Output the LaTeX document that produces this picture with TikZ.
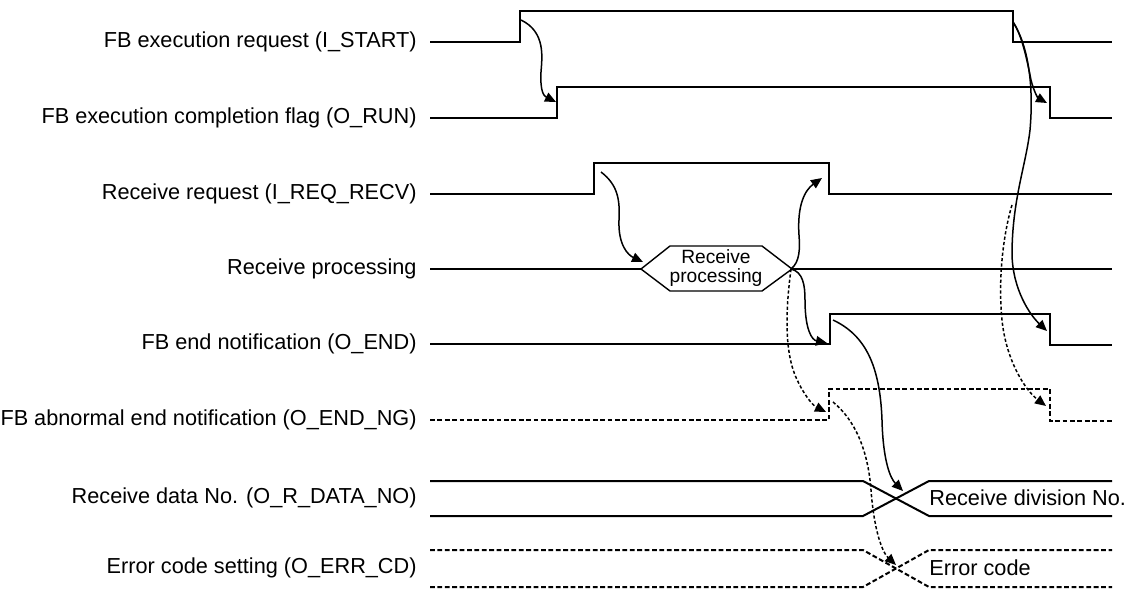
\documentclass[tikz,border=0pt]{standalone}
\usepackage{fontspec}
\setmainfont{Liberation Sans}
\usetikzlibrary{arrows.meta}

\begin{document}
\begin{tikzpicture}[x=0.5pt, y=-0.5pt,
  font=\fontsize{10.85}{13}\selectfont, >={Triangle[length=5.5pt,width=4.8pt]},
  lbl/.style={anchor=east, inner sep=0pt},
  val/.style={anchor=west, inner sep=0pt},
  sig/.style={line width=1pt, line join=miter},
  signg/.style={sig, dash pattern=on 2.4pt off 1.3pt},
  cause/.style={->, line width=0.75pt},
  causeng/.style={cause, dash pattern=on 1.6pt off 1.1pt},
]
\useasboundingbox (0,0) rectangle (1126,589);
% -- signal names
\node[lbl] (start) at (417,42) {FB execution request (I\_START)};
\node[lbl] (run) at (417,118) {FB execution completion flag (O\_RUN)};
\node[lbl] (reqrecv) at (417,194) {Receive request (I\_REQ\_RECV)};
\node[lbl] (recvproc) at (417,269) {Receive processing};
\node[lbl] (oend) at (417,344) {FB end notification (O\_END)};
\node[lbl] (oendng) at (417,420) {FB abnormal end notification (O\_END\_NG)};
\node[lbl] (rdata) at (417,498) {Receive data No. (O\_R\_DATA\_NO)};
\node[lbl] (errcd) at (417,568) {Error code setting (O\_ERR\_CD)};
% -- waveforms
\draw[sig] (430,42) -- (520,42) -- (520,11) -- (1013,11) -- (1013,42) -- (1112,42);
\draw[sig] (430,118) -- (557,118) -- (557,87) -- (1050,87) -- (1050,118) -- (1112,118);
\draw[sig] (430,194) -- (594,194) -- (594,163) -- (829,163) -- (829,194) -- (1112,194);
\draw[sig, line width=1.3pt] (430,269) -- (641,269) (792,269) -- (1112,269);
\draw[line width=0.7pt] (641,269) -- (670,246) -- (762,246) -- (792,269) -- (762,291) -- (670,291) -- cycle;
\node[align=center, inner sep=0pt, font=\fontsize{9.6}{9.5}\selectfont] (proc) at (716,268) {Receive\\processing};
\draw[sig] (430,344) -- (830,344) -- (830,314) -- (1050,314) -- (1050,345) -- (1112,345);
\draw[signg] (430,420) -- (829,420) -- (829,389) -- (1050,389) -- (1050,421) -- (1112,421);
\draw[sig] (430,481) -- (863,481) -- (929,516) -- (1112,516);
\draw[sig] (430,516) -- (863,516) -- (929,481) -- (1112,481);
\draw[signg] (430,550) -- (863,550) -- (929,587) -- (1112,587);
\draw[signg] (430,587) -- (863,587) -- (929,550) -- (1112,550);
\node[val] (divno) at (929,498) {Receive division No.};
\node[val] (errcode) at (929,568) {Error code};
% -- edge points
\coordinate (startup) at (521,20);
\coordinate (runup) at (556,102);
\coordinate (startdn) at (1013,22);
\coordinate (rundn) at (1047,103);
\coordinate (recvup) at (601,172);
\coordinate (procl) at (643,262);
\coordinate (procr) at (791,269);
\coordinate (recvdn) at (822,178);
\coordinate (endup) at (827,343);
\coordinate (ngup) at (826,412);
\coordinate (endtop) at (833,320);
\coordinate (ngtop) at (833,402);
\coordinate (datax) at (903,491);
\coordinate (errx) at (896,565);
\coordinate (branch) at (1012,205);
\coordinate (enddn) at (1047,331);
\coordinate (ngdn) at (1046,406);
% -- cause and effect
\draw[cause] (startup) .. controls (546,32) and (542,58) .. (541,72) .. controls (540,92) and (544,96) .. (runup);
\draw[cause] (recvup) .. controls (618,185) and (620,200) .. (619,220) .. controls (618,245) and (628,255) .. (procl);
\draw[cause] (procr) .. controls (800,262) and (800,248) .. (799,235) .. controls (797,205) and (805,190) .. (recvdn);
\draw[cause] (procr) .. controls (803,272) and (805,285) .. (805,300) .. controls (805,330) and (812,340) .. (endup);
\draw[causeng] (procr) .. controls (787,300) and (783,345) .. (795,375) .. controls (802,392) and (812,405) .. (ngup);
\draw[cause] (endtop) .. controls (865,335) and (880,365) .. (882,420) .. controls (883,460) and (890,478) .. (datax);
\draw[causeng] (ngtop) .. controls (855,420) and (868,450) .. (871,490) .. controls (874,530) and (882,552) .. (errx);
\draw[cause] (startdn) .. controls (1022,35) and (1027,60) .. (1031,80) .. controls (1034,92) and (1038,98) .. (rundn);
\draw[cause] (startdn) .. controls (1028,45) and (1034,85) .. (1030,130) .. controls (1026,165) and (1012,200) .. (1012,255) .. controls (1013,290) and (1030,315) .. (enddn);
\draw[causeng] (branch) .. controls (1003,235) and (998,280) .. (1002,320) .. controls (1006,360) and (1025,390) .. (ngdn);
\end{tikzpicture}
\end{document}
